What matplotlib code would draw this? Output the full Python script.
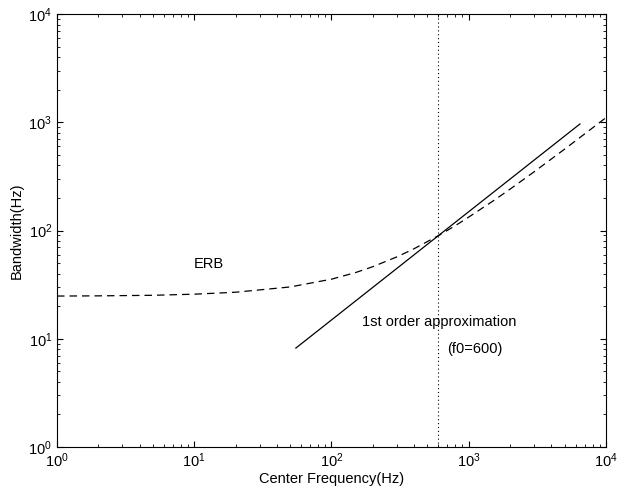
import matplotlib
matplotlib.use('Agg')
import matplotlib.pyplot as plt

plt.rcParams['font.family'] = ['Liberation Sans', 'DejaVu Sans']
plt.rcParams['mathtext.default'] = 'regular'

# ERB curve
erb_freq = [1, 2, 5, 10, 20, 50, 100, 150, 200, 300, 400, 600, 800, 1000,
            1500, 2000, 3000, 5000, 7000, 10000]
erb_bw = [24.8, 24.9, 25.2, 25.8, 26.9, 30.1, 35.5, 40.9, 46.3, 57.1, 67.9,
          89.5, 111, 133, 187, 241, 349, 565, 781, 1104]

# 1st order approximation (straight line end points)
approx_freq = [55, 6460]
approx_bw = [8.2, 964]

f0 = 600

fig = plt.figure(figsize=(6.34, 4.92), dpi=100)
ax = fig.add_axes([0.0899, 0.0915, 0.8659, 0.88])

ax.plot(erb_freq, erb_bw, 'k--', lw=0.9, dashes=(6, 4))
ax.plot(approx_freq, approx_bw, 'k-', lw=0.9)
ax.axvline(f0, color='k', ls=(0, (1, 2.5)), lw=0.8)

ax.set_xscale('log')
ax.set_yscale('log')
ax.set_xlim(1, 1e4)
ax.set_ylim(1, 1e4)

ax.tick_params(which='both', direction='in', top=True, right=True, labelsize=10.5)
ax.tick_params(which='major', length=4)
ax.tick_params(which='minor', length=2.5)
for s in ax.spines.values():
    s.set_linewidth(0.8)

ax.text(10, 49, 'ERB', fontsize=10.5, va='center', ha='left')
ax.text(167, 14.3, '1st order approximation', fontsize=10.5, va='center', ha='left')
ax.text(695, 8.0, '(f0=600)', fontsize=10.5, va='center', ha='left')

ax.set_xlabel('Center Frequency(Hz)', fontsize=10.5, labelpad=1)
ax.set_ylabel('Bandwidth(Hz)', fontsize=10.5, labelpad=3)

fig.savefig('out.png', dpi=100)
